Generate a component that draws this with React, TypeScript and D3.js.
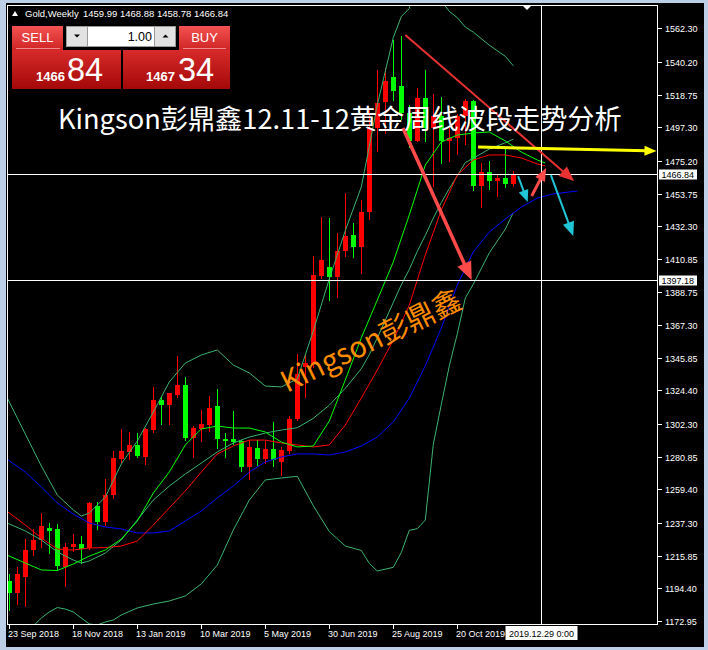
import * as d3 from "d3";

// weekly candles, bar 0 = 23 Sep 2018
const opens = [1199.4, 1191.1, 1202.1, 1219.6, 1226.2, 1234.0, 1233.2, 1208.6, 1221.4, 1223.5, 1220.9, 1248.5, 1238.0, 1255.5, 1279.6, 1284.0, 1288.4, 1280.5, 1298.4, 1318.1, 1315.0, 1321.6, 1328.2, 1293.2, 1299.3, 1301.5, 1314.2, 1292.7, 1292.3, 1291.0, 1274.2, 1286.6, 1279.2, 1286.1, 1277.4, 1284.8, 1305.4, 1339.6, 1341.8, 1399.6, 1405.3, 1399.1, 1415.8, 1426.3, 1418.8, 1441.6, 1497.0, 1513.6, 1530.5, 1524.4, 1506.5, 1488.5, 1516.5, 1497.0, 1504.5, 1488.5, 1490.0, 1505.0, 1514.5, 1459.0, 1468.0, 1462.0, 1464.0, 1459.99];
const highs = [1203.8, 1208.6, 1226.6, 1233.2, 1243.7, 1237.1, 1236.7, 1224.0, 1230.1, 1228.8, 1251.0, 1251.1, 1266.4, 1284.8, 1298.9, 1297.1, 1296.3, 1300.0, 1326.9, 1320.3, 1322.9, 1347.0, 1333.4, 1301.0, 1311.6, 1320.8, 1325.2, 1296.7, 1311.1, 1292.0, 1291.9, 1291.9, 1291.9, 1303.7, 1287.5, 1307.6, 1348.3, 1348.3, 1412.7, 1438.4, 1438.0, 1427.6, 1453.9, 1434.2, 1449.5, 1510.0, 1535.0, 1536.0, 1554.6, 1557.4, 1512.0, 1523.0, 1535.0, 1519.0, 1517.0, 1497.0, 1506.0, 1516.0, 1515.0, 1474.0, 1475.0, 1466.0, 1484.0, 1468.88];
const lows = [1180.2, 1184.0, 1182.8, 1216.5, 1221.8, 1217.4, 1206.4, 1195.9, 1219.0, 1210.9, 1220.0, 1233.2, 1236.0, 1254.0, 1277.5, 1279.2, 1280.5, 1276.1, 1297.0, 1302.4, 1302.4, 1320.0, 1291.9, 1280.9, 1291.0, 1298.0, 1286.6, 1280.9, 1289.5, 1271.7, 1266.4, 1275.2, 1277.0, 1274.8, 1269.0, 1283.0, 1305.0, 1320.3, 1340.0, 1398.0, 1383.8, 1386.0, 1413.0, 1411.9, 1401.4, 1437.0, 1482.0, 1493.5, 1515.0, 1503.0, 1484.0, 1488.0, 1488.0, 1459.0, 1474.0, 1475.0, 1480.0, 1486.0, 1456.0, 1445.0, 1457.0, 1452.0, 1458.0, 1458.78];
const closes = [1191.1, 1203.8, 1219.6, 1226.2, 1235.4, 1232.3, 1209.1, 1221.8, 1223.5, 1220.4, 1250.3, 1238.0, 1255.5, 1280.0, 1284.4, 1288.4, 1281.3, 1299.3, 1318.1, 1315.0, 1322.5, 1328.2, 1293.2, 1299.7, 1302.4, 1312.9, 1292.7, 1291.4, 1290.5, 1273.9, 1287.5, 1279.2, 1286.1, 1278.7, 1285.3, 1305.8, 1335.2, 1342.2, 1400.4, 1410.1, 1399.1, 1416.2, 1425.8, 1418.8, 1441.6, 1496.5, 1513.0, 1527.9, 1520.9, 1506.5, 1488.5, 1516.5, 1497.0, 1504.5, 1488.5, 1490.0, 1505.0, 1514.5, 1459.0, 1468.0, 1462.0, 1464.0, 1460.0, 1466.84];

// indicator lines, [bar, price]
const upperBand: [number, number][] = [[-1, 1327.3], [0, 1316.8], [2, 1295.8], [4, 1274.8], [6, 1255.7], [8, 1245.9], [9, 1241.9], [10, 1243.9], [12, 1254.4], [14, 1276.1], [16, 1291.2], [18, 1310.2], [20, 1330.0], [22, 1342.4], [24, 1347.7], [26, 1351.0], [28, 1341.1], [30, 1335.9], [32, 1327.3], [34, 1326.7], [36, 1332.0], [38, 1363.5], [40, 1397.7], [42, 1429.4], [44, 1458.1], [45, 1484.9], [46, 1512.0], [48, 1556.2], [49, 1570.0], [50, 1575.3], [51, 1598.0], [52, 1613.3], [53, 1586.2], [54, 1580.4], [55, 1573.4], [56, 1569.3], [57, 1563.1], [58, 1559.8], [60, 1551.2], [62, 1543.9], [63, 1537.7]];
const middleBand: [number, number][] = [[-1, 1238.6], [0, 1236.7], [2, 1232.1], [4, 1226.2], [6, 1218.3], [8, 1213.0], [9, 1211.0], [10, 1212.4], [12, 1217.6], [14, 1226.2], [16, 1239.3], [18, 1252.4], [20, 1261.6], [22, 1269.5], [24, 1276.7], [26, 1284.0], [28, 1289.9], [30, 1293.8], [32, 1296.4], [34, 1298.4], [36, 1299.9], [38, 1306.1], [40, 1314.7], [42, 1325.8], [44, 1338.7], [45, 1347.9], [46, 1358.9], [48, 1382.2], [49, 1393.8], [50, 1403.9], [51, 1415.8], [52, 1426.3], [53, 1437.6], [54, 1447.8], [55, 1457.0], [56, 1465.5], [57, 1474.1], [58, 1477.0], [60, 1483.0], [62, 1487.1], [63, 1489.5]];
const lowerBand: [number, number][] = [[-1, 1150.0], [0, 1158.0], [2, 1165.7], [3, 1169.7], [4, 1174.9], [5, 1178.9], [6, 1181.8], [7, 1180.8], [8, 1178.9], [9, 1174.9], [10, 1171.0], [11, 1170.3], [12, 1172.3], [13, 1173.6], [14, 1176.9], [16, 1181.5], [18, 1184.1], [20, 1186.1], [22, 1189.4], [24, 1197.3], [26, 1209.7], [28, 1232.7], [30, 1252.4], [32, 1265.6], [34, 1266.9], [36, 1268.0], [38, 1248.7], [40, 1231.7], [42, 1222.2], [44, 1219.3], [45, 1210.8], [46, 1205.8], [48, 1208.2], [49, 1218.0], [50, 1232.5], [51, 1233.6], [52, 1239.3], [53, 1289.0], [54, 1315.2], [55, 1340.6], [56, 1361.6], [57, 1385.1], [58, 1394.2], [60, 1414.8], [62, 1430.3], [63, 1441.3]];
const fastMa: [number, number][] = [[-1, 1217.6], [0, 1215.6], [2, 1211.0], [4, 1206.5], [6, 1206.1], [8, 1210.4], [10, 1215.6], [12, 1219.6], [14, 1226.8], [16, 1238.6], [18, 1257.0], [20, 1270.8], [22, 1288.6], [24, 1299.1], [26, 1301.0], [28, 1299.7], [30, 1299.7], [32, 1297.1], [34, 1290.5], [36, 1287.3], [38, 1287.9], [40, 1304.3], [42, 1331.3], [44, 1358.9], [46, 1383.8], [48, 1408.8], [50, 1439.7], [52, 1472.5], [54, 1487.6], [56, 1492.2], [58, 1493.5], [60, 1494.2], [62, 1488.3], [64, 1481.0], [66, 1475.8], [67, 1473.8]];
const midMa: [number, number][] = [[-1, 1247.2], [0, 1243.9], [2, 1236.0], [4, 1227.5], [6, 1220.2], [8, 1219.6], [10, 1220.9], [12, 1221.2], [14, 1222.2], [16, 1225.5], [18, 1236.0], [20, 1247.2], [22, 1258.4], [24, 1270.8], [26, 1282.7], [28, 1287.9], [30, 1291.8], [32, 1291.8], [34, 1289.9], [36, 1288.6], [38, 1287.3], [40, 1288.6], [42, 1301.7], [44, 1319.4], [46, 1337.8], [48, 1357.5], [50, 1380.5], [52, 1413.4], [54, 1442.9], [56, 1465.9], [58, 1475.8], [60, 1479.1], [62, 1479.1], [64, 1477.1], [66, 1473.2], [67, 1471.9]];
const slowMa: [number, number][] = [[-1, 1284.0], [0, 1278.1], [2, 1270.8], [4, 1261.0], [6, 1250.5], [8, 1243.2], [10, 1237.3], [12, 1234.7], [14, 1233.4], [16, 1230.8], [18, 1230.8], [20, 1232.1], [22, 1238.6], [24, 1245.2], [26, 1253.8], [28, 1261.6], [30, 1270.8], [32, 1277.4], [34, 1280.7], [36, 1282.7], [38, 1282.7], [40, 1282.0], [42, 1284.0], [44, 1287.9], [46, 1293.8], [48, 1303.7], [50, 1319.4], [52, 1340.5], [54, 1365.4], [56, 1393.7], [58, 1415.4], [60, 1428.5], [62, 1437.0], [64, 1444.9], [66, 1450.8], [68, 1453.5], [70, 1454.8], [71, 1455.4]];

// drawn arrows, [bar, price] from -> to
const redThinArrows: [number, number][][] = [[[49.5, 1557.9], [70.6, 1462.0]]];
const redArrows: [number, number][][] = [[[49.2, 1496.8], [57.8, 1396.9]], [[65.3, 1452.1], [67.1, 1470.5]]];
const yellowArrows: [number, number][][] = [[[58.6, 1484.3], [80.9, 1481.7]]];
const cyanArrows: [number, number][][] = [[[63.6, 1465.2], [64.8, 1448.2]], [[67.7, 1465.9], [70.5, 1425.9]]];

const priceTicks = [1562.3, 1540.2, 1518.75, 1497.3, 1475.2, 1453.75, 1432.3, 1410.85, 1388.75, 1367.3, 1345.85, 1324.4, 1302.3, 1280.85, 1259.4, 1237.3, 1215.85, 1194.4, 1172.95];
const dateLabels = ["23 Sep 2018", "18 Nov 2018", "13 Jan 2019", "10 Mar 2019", "5 May 2019", "30 Jun 2019", "25 Aug 2019", "20 Oct 2019"];
const dateBars = [0, 8, 16, 24, 32, 40, 48, 56];

const bidPrice = 1466.84;
const crossPrice = 1397.18;
const crossBar = 66.5;
const crossLabel = "2019.12.29 0:00";
const symbolName = "Gold,Weekly";
const headerOhlc = [1459.99, 1468.88, 1458.78, 1466.84];
const lotSize = "1.00";
const sellQuote = ["1466", "84"];
const buyQuote = ["1467", "34"];
const title = "Kingson彭鼎鑫12.11-12黄金周线波段走势分析";
const watermark = "Kingson彭鼎鑫";

const UI_FONT = "'Liberation Sans', Arial, sans-serif";
const CJK_FONT = "'Noto Sans CJK SC', 'Noto Sans', sans-serif";

const plot = { left: 7.5, top: 5, right: 657.5, bottom: 624.5 };

function Arrow({ p, color, width, head }: { p: number[][]; color: string; width: number; head: number }) {
  const [x1, y1] = p[0];
  const [x2, y2] = p[1];
  const len = Math.hypot(x2 - x1, y2 - y1);
  const ux = (x2 - x1) / len;
  const uy = (y2 - y1) / len;
  const bx = x2 - ux * head;
  const by = y2 - uy * head;
  const hw = head * 0.42;
  const pts = [[x2, y2], [bx - uy * hw, by + ux * hw], [bx + uy * hw, by - ux * hw]];
  return (
    <g>
      <line x1={x1} y1={y1} x2={bx + ux * 2} y2={by + uy * 2} stroke={color} strokeWidth={width} />
      <polygon points={pts.map(q => q.join(",")).join(" ")} fill={color} />
    </g>
  );
}

export default function App() {
  const width = 708;
  const height = 650;

  const x = d3.scaleLinear().domain([0, 81]).range([9.3, 657.3]);
  const y = d3.scaleLinear().domain([1172.95, 1562.3]).range([621, 28.3]);

  const line = d3.line<[number, number]>()
    .x(d => x(d[0]))
    .y(d => y(d[1]));

  const toPx = (seg: [number, number][]) => seg.map(d => [x(d[0]), y(d[1])]);

  const bidY = Math.round(y(bidPrice)) + 0.5;
  const crossY = Math.round(y(crossPrice)) + 0.5;
  const crossX = Math.round(x(crossBar)) + 0.5;

  return (
    <svg width={width} height={height} style={{ position: "absolute", left: 0, top: 0, display: "block" }}>
      <defs>
        <clipPath id="plot-clip">
          <rect x={plot.left + 0.5} y={plot.top + 0.5} width={plot.right - plot.left - 1} height={plot.bottom - plot.top - 1} />
        </clipPath>
        <linearGradient id="btn-red" x1="0" y1="0" x2="0" y2="1">
          <stop offset="0%" stopColor="#f45252" />
          <stop offset="100%" stopColor="#cf2424" />
        </linearGradient>
        <linearGradient id="quote-red" x1="0" y1="0" x2="0" y2="1">
          <stop offset="0%" stopColor="#d82a2a" />
          <stop offset="100%" stopColor="#a30808" />
        </linearGradient>
      </defs>

      {/* window frame */}
      <rect x={0} y={0} width={width} height={height} fill="#bccfe6" />
      <rect x={6} y={3} width={698} height={644} fill="#000" />

      <g clipPath="url(#plot-clip)">
        {/* candles */}
        {opens.map((o, i) => {
          const c = closes[i];
          const cx = Math.round(x(i));
          const color = c >= o ? "#ff0000" : "#00ff00";
          const top = Math.round(y(Math.max(o, c)));
          const bot = Math.round(y(Math.min(o, c)));
          return (
            <g key={i} shapeRendering="crispEdges">
              <line x1={cx + 0.5} x2={cx + 0.5} y1={Math.round(y(highs[i]))} y2={Math.round(y(lows[i])) + 1} stroke={color} />
              <rect x={cx - 2} y={top} width={5} height={Math.max(1, bot - top)} fill={color} />
            </g>
          );
        })}

        {/* indicators */}
        <path d={line(upperBand) || ""} fill="none" stroke="#3cb371" strokeWidth={1} />
        <path d={line(lowerBand) || ""} fill="none" stroke="#3cb371" strokeWidth={1} />
        <path d={line(middleBand) || ""} fill="none" stroke="#3cb371" strokeWidth={1} />
        <path d={line(slowMa) || ""} fill="none" stroke="#0000ff" strokeWidth={1} />
        <path d={line(midMa) || ""} fill="none" stroke="#ff0000" strokeWidth={1} />
        <path d={line(fastMa) || ""} fill="none" stroke="#00ff00" strokeWidth={1} />

        {/* bid line & crosshair */}
        <g shapeRendering="crispEdges" stroke="#fff">
          <line x1={plot.left} x2={plot.right} y1={bidY} y2={bidY} />
          <line x1={plot.left} x2={plot.right} y1={crossY} y2={crossY} />
          <line x1={crossX} x2={crossX} y1={plot.top} y2={plot.bottom} />
        </g>

        {/* drawn objects */}
        {redThinArrows.map((a, i) => <Arrow key={"rt" + i} p={toPx(a)} color="#e83232" width={2} head={15} />)}
        {redArrows.map((a, i) => <Arrow key={"r" + i} p={toPx(a)} color="#ff4a4a" width={i === 0 ? 3.5 : 3} head={i === 0 ? 18 : 13} />)}
        {yellowArrows.map((a, i) => <Arrow key={"y" + i} p={toPx(a)} color="#ffff00" width={3} head={12} />)}
        {cyanArrows.map((a, i) => <Arrow key={"c" + i} p={toPx(a)} color="#20c6d6" width={2} head={i === 0 ? 12 : 14} />)}

        {/* watermark */}
        <text transform="translate(287,393) rotate(-26)" fill="#ff8c00" fontFamily={CJK_FONT} fontSize={29}>
          {watermark}
        </text>

        {/* title */}
        <text x={58} y={128.5} fill="#fff" fontFamily={CJK_FONT} fontSize={27.2}>
          {title}
        </text>
      </g>

      {/* plot frame */}
      <rect x={plot.left} y={plot.top} width={plot.right - plot.left} height={plot.bottom - plot.top} fill="none" stroke="#fff" shapeRendering="crispEdges" />
      <polygon points="522,5 532,5 527,10" fill="#fff" />

      {/* price axis */}
      <g fontFamily={UI_FONT} fontSize={9} fill="#fff">
        {priceTicks.map(t => {
          const ty = Math.round(y(t)) + 0.5;
          return (
            <g key={t}>
              <line x1={plot.right} x2={plot.right + 4} y1={ty} y2={ty} stroke="#fff" shapeRendering="crispEdges" />
              <text x={665} y={ty + 3.3}>{t.toFixed(2)}</text>
            </g>
          );
        })}
        <rect x={659} y={bidY - 5} width={38} height={10} fill="#fff" />
        <text x={661.5} y={bidY + 3.3} fill="#000">{bidPrice.toFixed(2)}</text>
        <rect x={659} y={crossY - 5} width={38} height={10} fill="#fff" />
        <text x={661.5} y={crossY + 3.3} fill="#000">{crossPrice.toFixed(2)}</text>
      </g>

      {/* time axis */}
      <g fontFamily={UI_FONT} fontSize={9} fill="#fff">
        {dateBars.map((b, i) => {
          const tx = Math.round(x(b)) + 0.5;
          return (
            <g key={b}>
              <line x1={tx} x2={tx} y1={plot.bottom} y2={plot.bottom + 4} stroke="#fff" shapeRendering="crispEdges" />
              <text x={tx - 1.5} y={637}>{dateLabels[i]}</text>
            </g>
          );
        })}
        <rect x={crossX - 36} y={626} width={72} height={14} fill="#fff" />
        <text x={crossX} y={637} fill="#000" textAnchor="middle">{crossLabel}</text>
      </g>

      {/* header */}
      <polygon points="12,16 18,16 15,11" fill="#fff" />
      <text x={25} y={17} fontFamily={UI_FONT} fontSize={9.5} fill="#fff">{symbolName}</text>
      <text x={83} y={17} fontFamily={UI_FONT} fontSize={9.5} fill="#fff">{headerOhlc.map(v => v.toFixed(2)).join(" ")}</text>

      {/* one-click trading panel */}
      <g fontFamily={UI_FONT}>
        <rect x={12} y={26} width={51} height={24} fill="url(#btn-red)" />
        <rect x={179} y={26} width={51} height={24} fill="url(#btn-red)" />
        <rect x={12} y={50} width={109} height={39} fill="url(#quote-red)" />
        <rect x={123} y={50} width={107} height={39} fill="url(#quote-red)" />
        <line x1={16} x2={60} y1={48.5} y2={48.5} stroke="#f08a8a" />
        <line x1={183} x2={226} y1={48.5} y2={48.5} stroke="#f08a8a" />
        <text x={37.5} y={41.5} textAnchor="middle" fill="#fff" fontSize={13}>SELL</text>
        <text x={204.5} y={41.5} textAnchor="middle" fill="#fff" fontSize={13}>BUY</text>

        <rect x={66.5} y={26.5} width={21} height={20} fill="#e2e2e2" stroke="#9a9a9a" />
        <polygon points="74,34.5 80,34.5 77,37.5" fill="#000" />
        <rect x={87.5} y={26.5} width={67} height={20} fill="#fff" stroke="#9a9a9a" />
        <text x={152} y={41} textAnchor="end" fontSize={12.5} fill="#000">{lotSize}</text>
        <rect x={154.5} y={26.5} width={21} height={20} fill="#e2e2e2" stroke="#9a9a9a" />
        <polygon points="162.5,37.5 168.5,37.5 165.5,34.5" fill="#000" />

        <text x={36} y={81} fill="#fff" fontSize={13} fontWeight="bold">{sellQuote[0]}</text>
        <text x={67} y={80.5} fill="#fff" fontSize={32.5}>{sellQuote[1]}</text>
        <text x={146} y={81} fill="#fff" fontSize={13} fontWeight="bold">{buyQuote[0]}</text>
        <text x={178} y={80.5} fill="#fff" fontSize={32.5}>{buyQuote[1]}</text>
      </g>
    </svg>
  );
}
